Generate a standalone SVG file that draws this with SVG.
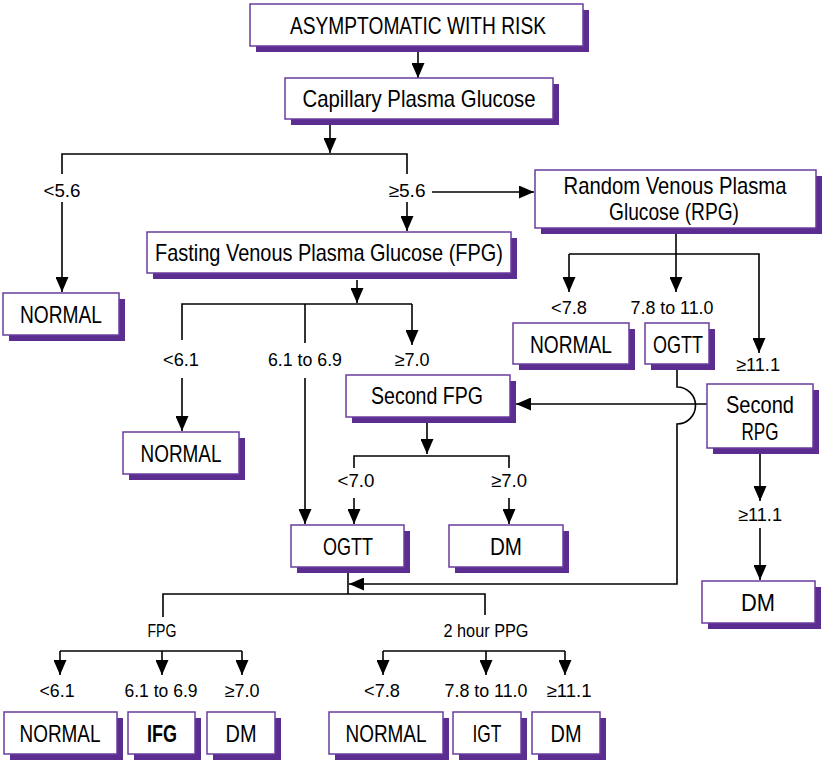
<svg xmlns="http://www.w3.org/2000/svg" width="822" height="761" viewBox="0 0 822 761">
<defs>
<marker id="ah" markerUnits="userSpaceOnUse" markerWidth="15" markerHeight="13" refX="15" refY="6.5" orient="auto">
<path d="M0,0 L15,6.5 L0,13 z" fill="#000"/>
</marker>
<style>
.sh{fill:#5c2d91}
.bx{fill:#fff;stroke:#6a3d9e;stroke-width:1.5}
.t{font-family:"Liberation Sans",Arial,sans-serif;font-size:24px;fill:#000;text-anchor:middle}
.b{font-weight:bold}
.l{font-family:"Liberation Sans",Arial,sans-serif;font-size:18.5px;fill:#000;text-anchor:middle}
.c{fill:none;stroke:#000;stroke-width:1.6}
.a{marker-end:url(#ah)}
</style>
</defs>
<rect width="822" height="761" fill="#fff"/>

<g id="connectors">
<path class="c a" d="M418,46 V78"/>
<path class="c a" d="M330,125 V153"/>
<path class="c" d="M62,174 V154 H407 V174"/>
<path class="c a" d="M62,202 V292"/>
<path class="c a" d="M407,202 V231"/>
<path class="c a" d="M432,192 H534"/>
<path class="c a" d="M676,228 V292"/>
<path class="c a" d="M569,254 V292"/>
<path class="c a" d="M569,254 H759 V353"/>
<path class="c a" d="M677,364 V387 A18.5,18.5 0 0 1 677,424 V584 H349"/>
<path class="c a" d="M707,404 H516"/>
<path class="c a" d="M760,454 V501"/>
<path class="c a" d="M760,528 V580"/>
<path class="c a" d="M357,280 V303"/>
<path class="c" d="M182,340 V304 H412"/>
<path class="c" d="M305,304 V343"/>
<path class="c a" d="M412,304 V345"/>
<path class="c a" d="M182,378 V431"/>
<path class="c a" d="M305,378 V524"/>
<path class="c a" d="M427,423 V454"/>
<path class="c" d="M354,468 V456 H509 V468"/>
<path class="c a" d="M354,498 V524"/>
<path class="c a" d="M509,498 V524"/>
<path class="c" d="M348,573 V594"/>
<path class="c" d="M163,617 V594 H485 V615"/>
<path class="c" d="M60,651 H242"/>
<path class="c a" d="M60,651 V675"/>
<path class="c a" d="M162,651 V675"/>
<path class="c a" d="M242,651 V675"/>
<path class="c" d="M383,651 H565"/>
<path class="c a" d="M383,651 V675"/>
<path class="c a" d="M486,651 V675"/>
<path class="c a" d="M565,651 V675"/>
</g>

<g id="labels">
<text class="l" x="62" y="197" textLength="37" lengthAdjust="spacingAndGlyphs">&lt;5.6</text>
<text class="l" x="407" y="197" textLength="37" lengthAdjust="spacingAndGlyphs">≥5.6</text>
<text class="l" x="569" y="314" textLength="36" lengthAdjust="spacingAndGlyphs">&lt;7.8</text>
<text class="l" x="672" y="314" textLength="83" lengthAdjust="spacingAndGlyphs">7.8 to 11.0</text>
<text class="l" x="758" y="371" textLength="44" lengthAdjust="spacingAndGlyphs">≥11.1</text>
<text class="l" x="181" y="366" textLength="36" lengthAdjust="spacingAndGlyphs">&lt;6.1</text>
<text class="l" x="305" y="366" textLength="74" lengthAdjust="spacingAndGlyphs">6.1 to 6.9</text>
<text class="l" x="412" y="366" textLength="35" lengthAdjust="spacingAndGlyphs">≥7.0</text>
<text class="l" x="356" y="487" textLength="37" lengthAdjust="spacingAndGlyphs">&lt;7.0</text>
<text class="l" x="509" y="487" textLength="36" lengthAdjust="spacingAndGlyphs">≥7.0</text>
<text class="l" x="760" y="521" textLength="44" lengthAdjust="spacingAndGlyphs">≥11.1</text>
<text class="l" x="162" y="637" textLength="29" lengthAdjust="spacingAndGlyphs">FPG</text>
<text class="l" x="486" y="637" textLength="85" lengthAdjust="spacingAndGlyphs">2 hour PPG</text>
<text class="l" x="57" y="697" textLength="35" lengthAdjust="spacingAndGlyphs">&lt;6.1</text>
<text class="l" x="161" y="697" textLength="73" lengthAdjust="spacingAndGlyphs">6.1 to 6.9</text>
<text class="l" x="242" y="697" textLength="35" lengthAdjust="spacingAndGlyphs">≥7.0</text>
<text class="l" x="382" y="697" textLength="36" lengthAdjust="spacingAndGlyphs">&lt;7.8</text>
<text class="l" x="486" y="697" textLength="83" lengthAdjust="spacingAndGlyphs">7.8 to 11.0</text>
<text class="l" x="569" y="697" textLength="45" lengthAdjust="spacingAndGlyphs">≥11.1</text>
</g>

<g id="asymptomatic">
<rect class="sh" x="256" y="10" width="333" height="42"/>
<rect class="bx" x="250" y="4" width="333" height="42"/>
<text class="t" x="418" y="34" textLength="256" lengthAdjust="spacingAndGlyphs">ASYMPTOMATIC WITH RISK</text>
</g>
<g id="capillary">
<rect class="sh" x="291" y="84" width="268" height="41"/>
<rect class="bx" x="285" y="78" width="268" height="41"/>
<text class="t" x="419" y="107" textLength="233" lengthAdjust="spacingAndGlyphs">Capillary Plasma Glucose</text>
</g>
<g id="normal-cpg">
<rect class="sh" x="9" y="299" width="116" height="42"/>
<rect class="bx" x="3" y="293" width="116" height="42"/>
<text class="t" x="61" y="323" textLength="82" lengthAdjust="spacingAndGlyphs">NORMAL</text>
</g>
<g id="fpg">
<rect class="sh" x="153" y="238" width="364" height="41"/>
<rect class="bx" x="147" y="232" width="364" height="41"/>
<text class="t" x="329" y="261" textLength="348" lengthAdjust="spacingAndGlyphs">Fasting Venous Plasma Glucose (FPG)</text>
</g>
<g id="rpg">
<rect class="sh" x="541" y="176" width="281" height="58"/>
<rect class="bx" x="535" y="170" width="281" height="58"/>
<text class="t" x="675" y="194" textLength="223" lengthAdjust="spacingAndGlyphs">Random Venous Plasma</text>
<text class="t" x="674" y="220" textLength="130" lengthAdjust="spacingAndGlyphs">Glucose (RPG)</text>
</g>
<g id="normal-rpg">
<rect class="sh" x="519" y="329" width="116" height="41"/>
<rect class="bx" x="513" y="323" width="116" height="41"/>
<text class="t" x="571" y="353" textLength="82" lengthAdjust="spacingAndGlyphs">NORMAL</text>
</g>
<g id="ogtt-rpg">
<rect class="sh" x="651" y="329" width="64" height="41"/>
<rect class="bx" x="645" y="323" width="64" height="41"/>
<text class="t" x="678" y="353" textLength="50" lengthAdjust="spacingAndGlyphs">OGTT</text>
</g>
<g id="second-rpg">
<rect class="sh" x="713" y="390" width="106" height="64"/>
<rect class="bx" x="707" y="384" width="106" height="64"/>
<text class="t" x="760" y="413" textLength="68" lengthAdjust="spacingAndGlyphs">Second</text>
<text class="t" x="760" y="440" textLength="37" lengthAdjust="spacingAndGlyphs">RPG</text>
</g>
<g id="dm-rpg">
<rect class="sh" x="708" y="587" width="113" height="42"/>
<rect class="bx" x="702" y="581" width="113" height="42"/>
<text class="t" x="758" y="611" textLength="34" lengthAdjust="spacingAndGlyphs">DM</text>
</g>
<g id="second-fpg">
<rect class="sh" x="352" y="381" width="164" height="42"/>
<rect class="bx" x="346" y="375" width="164" height="42"/>
<text class="t" x="427" y="404" textLength="112" lengthAdjust="spacingAndGlyphs">Second FPG</text>
</g>
<g id="normal-fpg">
<rect class="sh" x="129" y="438" width="116" height="42"/>
<rect class="bx" x="123" y="432" width="116" height="42"/>
<text class="t" x="181" y="462" textLength="81" lengthAdjust="spacingAndGlyphs">NORMAL</text>
</g>
<g id="ogtt">
<rect class="sh" x="297" y="531" width="113" height="42"/>
<rect class="bx" x="291" y="525" width="113" height="42"/>
<text class="t" x="348" y="555" textLength="50" lengthAdjust="spacingAndGlyphs">OGTT</text>
</g>
<g id="dm-fpg">
<rect class="sh" x="455" y="531" width="114" height="42"/>
<rect class="bx" x="449" y="525" width="114" height="42"/>
<text class="t" x="506" y="555" textLength="32" lengthAdjust="spacingAndGlyphs">DM</text>
</g>
<g id="normal-ogtt-fpg">
<rect class="sh" x="10" y="718" width="113" height="42"/>
<rect class="bx" x="4" y="712" width="113" height="42"/>
<text class="t" x="60" y="742" textLength="81" lengthAdjust="spacingAndGlyphs">NORMAL</text>
</g>
<g id="ifg">
<rect class="sh" x="134" y="718" width="67" height="42"/>
<rect class="bx" x="128" y="712" width="67" height="42"/>
<text class="t b" x="162" y="742" textLength="30" lengthAdjust="spacingAndGlyphs">IFG</text>
</g>
<g id="dm-ogtt-fpg">
<rect class="sh" x="213" y="718" width="68" height="42"/>
<rect class="bx" x="207" y="712" width="68" height="42"/>
<text class="t" x="241" y="742" textLength="31" lengthAdjust="spacingAndGlyphs">DM</text>
</g>
<g id="normal-ogtt-ppg">
<rect class="sh" x="335" y="718" width="114" height="42"/>
<rect class="bx" x="329" y="712" width="114" height="42"/>
<text class="t" x="386" y="742" textLength="81" lengthAdjust="spacingAndGlyphs">NORMAL</text>
</g>
<g id="igt">
<rect class="sh" x="459" y="718" width="68" height="42"/>
<rect class="bx" x="453" y="712" width="68" height="42"/>
<text class="t" x="487" y="742" textLength="29" lengthAdjust="spacingAndGlyphs">IGT</text>
</g>
<g id="dm-ogtt-ppg">
<rect class="sh" x="538" y="718" width="68" height="42"/>
<rect class="bx" x="532" y="712" width="68" height="42"/>
<text class="t" x="566" y="742" textLength="31" lengthAdjust="spacingAndGlyphs">DM</text>
</g>
</svg>
